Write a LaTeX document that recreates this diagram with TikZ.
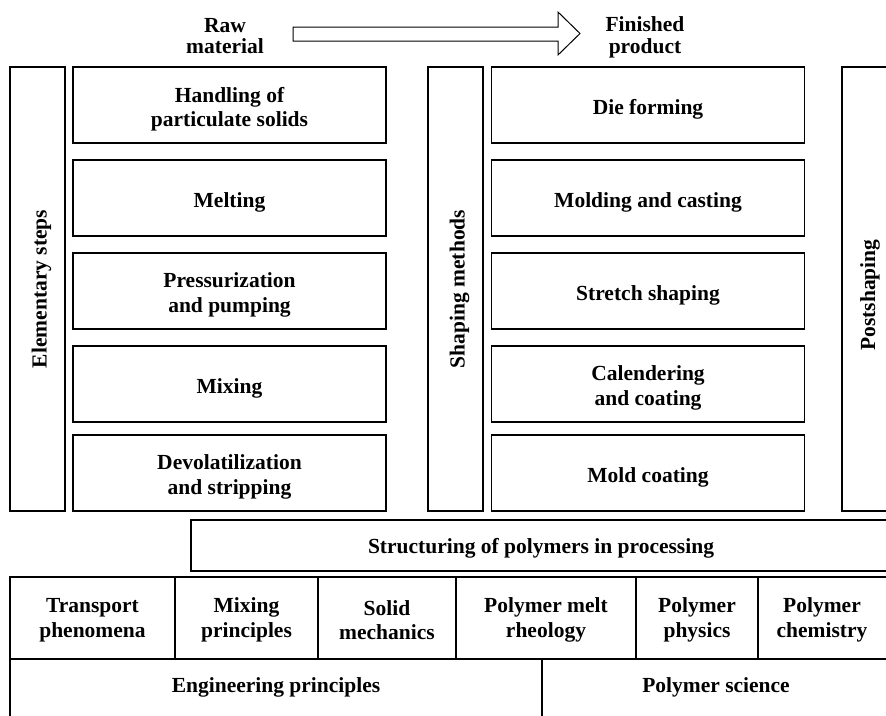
\documentclass[tikz,border=0pt]{standalone}
\usepackage{fontspec}
\setmainfont{Liberation Serif}
\begin{document}
\begin{tikzpicture}[x=1pt,y=-1pt,
  every node/.style={font=\fontsize{21.5}{24.5}\selectfont\bfseries, align=center, inner sep=0pt},
  box/.style={draw, line width=1.3pt},
  cbox/.style={box, minimum width=313pt, minimum height=76pt},
  tall/.style={box, minimum width=55pt, minimum height=444pt},
  txt/.style={yshift=-4pt},
  vtxt/.style={rotate=90},
  edge/.style={line width=1.3pt},
  flow/.style={draw, line width=1pt, line join=miter},
  toplab/.style={font=\fontsize{21.5}{21.5}\selectfont\bfseries}]
\useasboundingbox (0,0) rectangle (886,715);

% top arrow and its labels
\node[toplab] (raw) at (225,36) {Raw\\material};
\node[toplab] (fin) at (645,37.5) {Finished\\product};
\draw[flow] (293,27) -- (558,27) -- (558,12) -- (580,33.5) -- (558,55) -- (558,41) -- (293,41) -- cycle;

% left group
\node[tall] (elem) at (37.5,289) {};
\node[vtxt] (elemt) at ([xshift=4pt]elem.center) {Elementary steps};
\node[cbox] (hps) at (229.5,105) {};
\node[txt] (hpst) at (hps) {Handling of\\particulate solids};
\node[cbox] (melt) at (229.5,198) {};
\node[txt] (meltt) at (melt) {Melting};
\node[cbox] (press) at (229.5,291) {};
\node[txt] (presst) at (press) {Pressurization\\and pumping};
\node[cbox] (mix) at (229.5,384) {};
\node[txt] (mixt) at (mix) {Mixing};
\node[cbox] (devol) at (229.5,473) {};
\node[txt] (devolt) at (devol) {Devolatilization\\and stripping};

% middle group
\node[tall] (shape) at (455.5,289) {};
\node[vtxt] (shapet) at ([xshift=4pt]shape.center) {Shaping methods};
\node[cbox] (die) at (648,105) {};
\node[txt] (diet) at (die) {Die forming};
\node[cbox] (mold) at (648,198) {};
\node[txt] (moldt) at (mold) {Molding and casting};
\node[cbox] (stretch) at (648,291) {};
\node[txt] (stretcht) at (stretch) {Stretch shaping};
\node[cbox] (cal) at (648,384) {};
\node[txt] (calt) at (cal) {Calendering\\and coating};
\node[cbox] (mcoat) at (648,473) {};
\node[txt] (mcoatt) at (mcoat) {Mold coating};

% postshaping (open to the right)
\draw[edge] (892,67) -- (842,67) -- (842,511) -- (892,511);
\node[vtxt] (post) at (870,295) {Postshaping};

% structuring band (open to the right)
\draw[edge] (892,520) -- (191,520) -- (191,571) -- (892,571);
\node (struct) at (541,548) {Structuring of polymers in processing};

% bottom table
\draw[edge] (892,577) -- (10,577) -- (10,720);
\draw[edge] (10,659) -- (892,659);
\draw[edge] (175,577) -- (175,659);
\draw[edge] (318,577) -- (318,659);
\draw[edge] (456,577) -- (456,659);
\draw[edge] (636,577) -- (636,659);
\draw[edge] (758,577) -- (758,659);
\draw[edge] (542,659) -- (542,720);

\node (tp) at (92.5,620) {Transport\\phenomena};
\node (mp) at (246.5,620) {Mixing\\principles};
\node (sm) at (387,620) {Solid\\mechanics};
\node (pmr) at (546,620) {Polymer melt\\rheology};
\node (pp) at (697,620) {Polymer\\physics};
\node (pc) at (822,620) {Polymer\\chemistry};
\node (ep) at (276,687) {Engineering principles};
\node (ps) at (716,687) {Polymer science};
\end{tikzpicture}
\end{document}
